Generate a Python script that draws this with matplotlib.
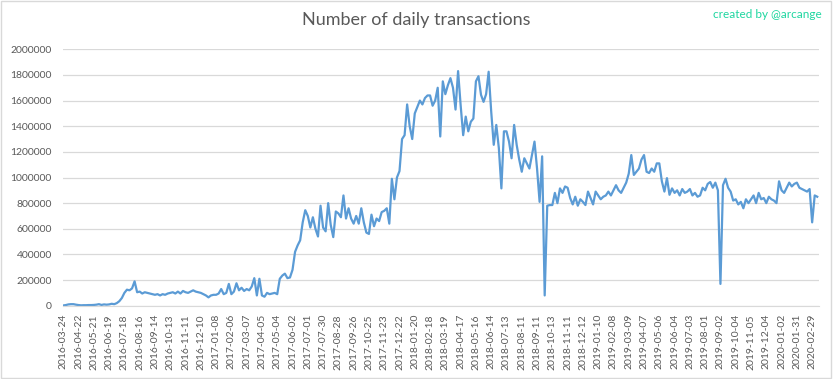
import numpy as np
import matplotlib.pyplot as plt
from matplotlib.patches import Rectangle
from matplotlib.ticker import FuncFormatter

# daily transactions (thousands), 6 readings per 29-day label step
tx_2016 = [2, 5, 10, 12, 12, 8,   5, 3, 4, 4, 5, 5,   6, 8, 12, 6, 10, 8,
           10, 15, 12, 20, 35, 60,   100, 125, 120, 135, 190, 105,
           110, 95, 105, 100, 95, 90,   85, 90, 80, 90, 85, 95,
           100, 105, 95, 110, 95, 115,   105, 100, 110, 120, 110, 105,
           100, 90, 80, 65, 80, 85]
tx_2017 = [85, 95, 130, 90, 100, 170,   90, 110, 175, 120, 140, 115,
           130, 120, 150, 215, 80, 210,   80, 70, 100, 90, 95, 100,
           90, 210, 235, 250, 215, 220,   280, 420, 470, 510, 650, 745,
           700, 610, 690, 600, 540, 780,   610, 580, 800, 630, 535, 735,
           720, 690, 860, 680, 760, 680,   640, 700, 640, 760, 650, 570,
           560, 710, 620, 680, 660, 730,   740, 760, 640, 990, 830, 1000,
           1050, 1300, 1330, 1570, 1400, 1300]
tx_2018 = [1500, 1550, 1600, 1570, 1620, 1640,   1640, 1560, 1600, 1700, 1320, 1750,
           1650, 1720, 1775, 1700, 1530, 1830,   1565, 1330, 1475, 1360, 1435, 1460,
           1750, 1790, 1645, 1590, 1650, 1825,   1515, 1255, 1410, 1230, 915, 1360,
           1360, 1280, 1150, 1410, 1255, 1140,   1045, 1150, 1110, 1070, 1175, 1280,
           1070, 810, 1165, 80, 780, 785,   785, 880, 800, 915, 880, 930,
           920, 840, 790, 850, 780, 830,   810, 785, 890, 840, 790, 890]
tx_2019 = [860, 830, 850, 860, 890, 860,   900, 940, 900, 880, 920, 960,
           1030, 1175, 1020, 1045, 1070, 1140,   1175, 1045, 1035, 1070, 1045, 1110,
           1110, 970, 890, 995, 865, 915,   880, 900, 860, 910, 880, 890,
           910, 860, 880, 850, 860, 920,   900, 950, 965, 920, 960, 900,
           170, 940, 990, 920, 890, 820,   830, 790, 810, 760, 830, 800,
           830, 860, 800, 880, 830, 840,   800, 850, 830, 820, 800, 970,
           900, 880, 920, 960, 930, 950,   960, 920, 910, 900, 890, 910,
           650, 860, 850]

date_labels = ['2016-03-24', '2016-04-22', '2016-05-21', '2016-06-19', '2016-07-18',
               '2016-08-16', '2016-09-14', '2016-10-13', '2016-11-11', '2016-12-10',
               '2017-01-08', '2017-02-06', '2017-03-07', '2017-04-05', '2017-05-04',
               '2017-06-02', '2017-07-01', '2017-07-30', '2017-08-28', '2017-09-26',
               '2017-10-25', '2017-11-23', '2017-12-22', '2018-01-20', '2018-02-18',
               '2018-03-19', '2018-04-17', '2018-05-16', '2018-06-14', '2018-07-13',
               '2018-08-11', '2018-09-11', '2018-10-13', '2018-11-11', '2018-12-12',
               '2019-01-10', '2019-02-08', '2019-03-09', '2019-04-07', '2019-05-06',
               '2019-06-04', '2019-07-03', '2019-08-01', '2019-09-02', '2019-10-04',
               '2019-11-05', '2019-12-04', '2020-01-02', '2020-01-31', '2020-02-29']
label_step = 29   # days between two labels
n_days = 1434

values = np.array(tx_2016 + tx_2017 + tx_2018 + tx_2019) * 1000
day = np.arange(len(values)) * label_step / 6

grey = '#595959'
fig = plt.figure(figsize=(8.33, 3.79), dpi=100)
ax = fig.add_axes([63 / 833, 1 - 305.7 / 379, 756 / 833, 256.4 / 379])

ax.plot(day, values, color='#5b9bd5', lw=1.6, solid_joinstyle='round')

ax.set_ylim(0, 2000000)
ax.set_yticks(np.arange(0, 2000001, 200000))
ax.yaxis.set_major_formatter(FuncFormatter(lambda v, p: '%d' % v))
ax.set_xlim(-0.5, n_days)
ax.set_xticks(np.arange(len(date_labels)) * label_step)
ax.set_xticklabels(date_labels, rotation=90)
ax.grid(axis='y', color='#d9d9d9', lw=0.9)
ax.set_axisbelow(True)
for s in ['top', 'right', 'left']:
    ax.spines[s].set_visible(False)
ax.spines['bottom'].set_color('#d9d9d9')
ax.tick_params(axis='both', length=0, colors=grey, labelsize=7.5)
ax.tick_params(axis='y', pad=8)
ax.tick_params(axis='x', pad=6)
for lab in ax.get_xticklabels() + ax.get_yticklabels():
    lab.set_family(['Lato', 'DejaVu Sans'])

fig.text(0.5, 1 - 20 / 379, 'Number of daily transactions', ha='center', va='center',
         fontsize=13, color=grey, family=['Lato', 'DejaVu Sans'])
fig.text(822 / 833, 1 - 14 / 379, 'created by @arcange', ha='right', va='center',
         fontsize=8.5, color='#1ed6a0', family=['Lato', 'DejaVu Sans'])

fig.patches.append(Rectangle((0.001, 0.002), 0.997, 0.995, transform=fig.transFigure,
                             fill=False, edgecolor='#d9d9d9', lw=1))

fig.savefig('out.png', dpi=100)
